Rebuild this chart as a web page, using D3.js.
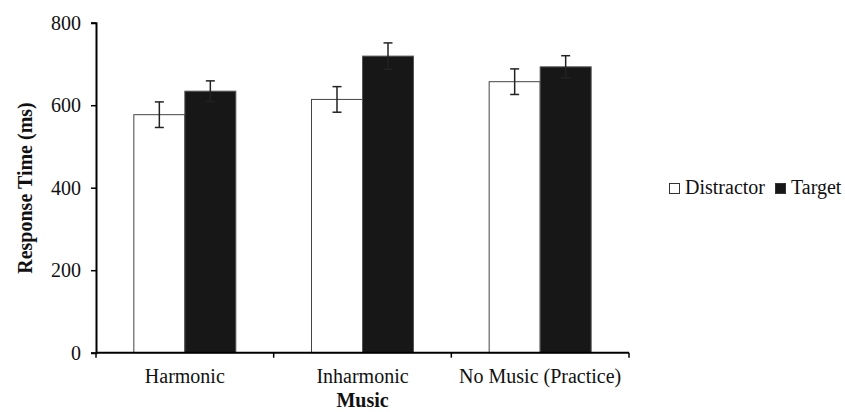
<!DOCTYPE html>
<html>
<head>
<meta charset="utf-8" />
<script type="text/javascript" src="https://cdn.jsdelivr.net/npm/d3@7/dist/d3.min.js"></script>
<style>
    body { margin: 0; background: #fff; }
    text { font-family: "Liberation Serif", "Times New Roman", serif; fill: #111; }
</style>
</head>
<body>
<svg width="845" height="412"></svg>

<script type="text/javascript">
    // data
    var categories = ["Harmonic", "Inharmonic", "No Music (Practice)"];
    var series = ["Distractor", "Target"];
    var distractor = [577, 614, 657];
    var distractorErr = [31, 31, 31];
    var target = [634, 719, 693];
    var targetErr = [25, 32, 27];
    var yTicks = [0, 200, 400, 600, 800];

    var svg = d3.select("svg");

    var x0 = d3.scaleBand().domain(categories).range([96, 629]);
    var bw = x0.bandwidth();
    var x1 = d3.scaleBand().domain(series).range([(bw - 102) / 2, (bw + 102) / 2]);
    var y = d3.scaleLinear().domain([0, 800]).range([352.7, 22.7]);

    var rows = [];
    categories.forEach(function (c, i) {
        rows.push({ cat: c, s: "Distractor", v: distractor[i], e: distractorErr[i] });
        rows.push({ cat: c, s: "Target", v: target[i], e: targetErr[i] });
    });

    // bars
    svg.selectAll("rect.bar")
        .data(rows)
        .enter()
        .append("rect")
            .attr("class", "bar")
            .attr("x", function (d) { return x0(d.cat) + x1(d.s); })
            .attr("y", function (d) { return y(d.v); })
            .attr("width", x1.bandwidth())
            .attr("height", function (d) { return y(0) - y(d.v); })
            .attr("fill", function (d) { return d.s == "Target" ? "#171717" : "#fff"; })
            .attr("stroke", function (d) { return d.s == "Target" ? "#555" : "#444"; })
            .attr("stroke-width", 1);

    // error bars
    var eb = svg.selectAll("g.err")
        .data(rows)
        .enter()
        .append("g")
            .attr("class", "err")
            .attr("stroke", "#222")
            .attr("stroke-width", 1.5);

    var cx = function (d) { return x0(d.cat) + x1(d.s) + x1.bandwidth() / 2; };
    eb.append("line")
        .attr("x1", cx).attr("x2", cx)
        .attr("y1", function (d) { return y(d.v + d.e); })
        .attr("y2", function (d) { return y(d.v - d.e); });
    eb.append("line")
        .attr("x1", function (d) { return cx(d) - 4.5; }).attr("x2", function (d) { return cx(d) + 4.5; })
        .attr("y1", function (d) { return y(d.v + d.e); })
        .attr("y2", function (d) { return y(d.v + d.e); });
    eb.append("line")
        .attr("x1", function (d) { return cx(d) - 4.5; }).attr("x2", function (d) { return cx(d) + 4.5; })
        .attr("y1", function (d) { return y(d.v - d.e); })
        .attr("y2", function (d) { return y(d.v - d.e); });

    // y axis
    var yAxis = svg.append("g")
        .attr("transform", "translate(96,0)")
        .call(d3.axisLeft(y).tickValues(yTicks).tickSize(5).tickPadding(10));
    yAxis.select(".domain").attr("stroke", "#000").attr("stroke-width", 2);
    yAxis.selectAll(".tick line").attr("stroke", "#000").attr("stroke-width", 1.5);
    yAxis.selectAll("text")
        .style("font-family", "Liberation Serif")
        .style("font-size", "20px")
        .attr("fill", "#111");

    // x axis: line, boundary ticks, category labels
    svg.append("line")
        .attr("x1", 96).attr("x2", 629)
        .attr("y1", y(0)).attr("y2", y(0))
        .attr("stroke", "#000").attr("stroke-width", 2);

    var bounds = categories.map(function (c) { return x0(c); }).concat([x0.range()[1]]);
    svg.selectAll("line.xtick")
        .data(bounds)
        .enter()
        .append("line")
            .attr("class", "xtick")
            .attr("x1", function (d) { return d; }).attr("x2", function (d) { return d; })
            .attr("y1", y(0)).attr("y2", y(0) + 5)
            .attr("stroke", "#000").attr("stroke-width", 1.5);

    svg.selectAll("text.xlab")
        .data(categories)
        .enter()
        .append("text")
            .attr("class", "xlab")
            .attr("x", function (d) { return x0(d) + bw / 2; })
            .attr("y", 383)
            .attr("text-anchor", "middle")
            .style("font-size", "20px")
            .text(function (d) { return d; });

    // axis titles
    svg.append("text")
        .attr("x", x0.range()[0] + (x0.range()[1] - x0.range()[0]) / 2)
        .attr("y", 407)
        .attr("text-anchor", "middle")
        .style("font-size", "20px")
        .style("font-weight", "bold")
        .text("Music");

    svg.append("text")
        .attr("transform", "translate(32,188) rotate(-90)")
        .attr("text-anchor", "middle")
        .style("font-size", "20px")
        .style("font-weight", "bold")
        .text("Response Time (ms)");

    // legend
    var legX = [669, 775];
    var leg = svg.selectAll("g.leg")
        .data(series)
        .enter()
        .append("g")
            .attr("class", "leg")
            .attr("transform", function (d, i) { return "translate(" + legX[i] + ",183)"; });
    leg.append("rect")
        .attr("x", 0.5).attr("y", 0.5)
        .attr("width", 10).attr("height", 10)
        .attr("fill", function (d) { return d == "Target" ? "#171717" : "#fff"; })
        .attr("stroke", "#333").attr("stroke-width", 1);
    leg.append("text")
        .attr("x", 16).attr("y", 11)
        .style("font-size", "20px")
        .text(function (d) { return d; });
</script>
</body>
</html>
